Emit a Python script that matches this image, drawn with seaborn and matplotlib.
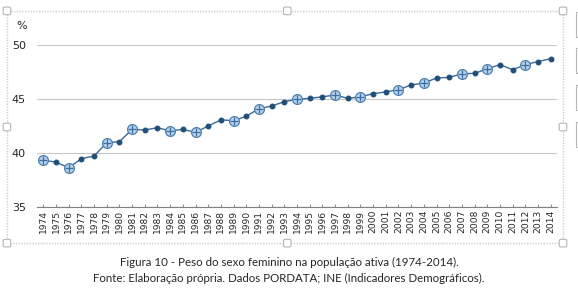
import pandas as pd
import seaborn as sns
import matplotlib.pyplot as plt
from matplotlib.patches import Rectangle, FancyBboxPatch

# values (% women in the active population)
years = list(range(1974, 2015))
values = [39.35, 39.14, 38.64, 39.47, 39.72, 40.96, 41.05, 42.19, 42.13, 42.34,
          42.04, 42.19, 41.91, 42.50, 43.06, 43.00, 43.40, 44.10, 44.35, 44.75,
          44.97, 45.06, 45.20, 45.37, 45.06, 45.20, 45.49, 45.65, 45.86, 46.30,
          46.48, 46.94, 47.00, 47.34, 47.37, 47.80, 48.18, 47.71, 48.18, 48.46,
          48.73]
# years drawn with the larger highlighted marker
highlight_years = [1974, 1976, 1979, 1981, 1984, 1986, 1989, 1991, 1994, 1997,
                   1999, 2002, 2004, 2007, 2009, 2012]

df = pd.DataFrame({"ano": years, "peso": values})
hl = df[df["ano"].isin(highlight_years)]

sns.set_style("white")
plt.rcParams['font.family'] = ['DejaVu Sans']

fig = plt.figure(figsize=(5.78, 2.94), dpi=100)
ax = fig.add_axes([0.064, 0.296, 0.8997, 0.551])

sns.lineplot(data=df, x="ano", y="peso", ax=ax, color="#3b6a99", linewidth=1.0,
             marker="o", markersize=3.5, markerfacecolor="#1f4e79",
             markeredgecolor="#1f4e79")
sns.scatterplot(data=hl, x="ano", y="peso", ax=ax, s=50, color="#b4d2ec",
                edgecolor="#4f7fae", linewidth=0.9, zorder=4)
sns.scatterplot(data=hl, x="ano", y="peso", ax=ax, s=36, marker="+",
                color="#3f6f9f", linewidth=0.9, zorder=5)

ax.set_xlim(1973.5, 2014.5)
ax.set_ylim(35, 50)
ax.set_yticks([35, 40, 45, 50])
ax.set_xticks(years)
ax.set_xticklabels([str(y) for y in years], rotation=90, fontsize=6.6)
ax.tick_params(axis="y", labelsize=8, length=0, pad=8)
ax.tick_params(axis="x", length=2.5, width=0.6, color="#777777", pad=2,
               direction="in", bottom=True)
ax.grid(axis="y", color="#c8c8c8", linewidth=0.8)
for s in ["top", "right", "left"]:
    ax.spines[s].set_visible(False)
ax.spines["bottom"].set_color("#7f7f7f")
ax.spines["bottom"].set_linewidth(0.8)
ax.set_xlabel("")
ax.set_ylabel("")
fig.text(0.029, 0.912, "%", fontsize=8, ha="left", va="center")

# chart frame with selection handles
fig.patches.append(Rectangle((0.012, 0.173), 0.962, 0.79, transform=fig.transFigure,
                             fill=False, edgecolor="#cccccc", linewidth=1.0,
                             linestyle=(0, (1, 1))))
hw, hh = 0.013, 0.026
for hx, hy in [(0.012, 0.963), (0.497, 0.963), (0.974, 0.963),
               (0.012, 0.568), (0.974, 0.568),
               (0.012, 0.173), (0.497, 0.173), (0.974, 0.173)]:
    fig.patches.append(FancyBboxPatch((hx - hw / 2, hy - hh / 2), hw, hh,
                                      boxstyle="round,pad=0,rounding_size=0.004",
                                      transform=fig.transFigure, facecolor="white",
                                      edgecolor="#b5b5b5", linewidth=0.8, zorder=10))
for by in [0.875, 0.752, 0.626, 0.5]:
    fig.patches.append(Rectangle((0.996, by), 0.02, 0.085, transform=fig.transFigure,
                                 facecolor="white", edgecolor="#b8b8b8", linewidth=0.8))

fig.text(0.5, 0.108, "Figura 10 - Peso do sexo feminino na população ativa (1974-2014).",
         ha="center", va="center", fontsize=8.3, family=["Lato", "DejaVu Sans"])
fig.text(0.5, 0.054, "Fonte: Elaboração própria. Dados PORDATA; INE (Indicadores Demográficos).",
         ha="center", va="center", fontsize=8.3, family=["Lato", "DejaVu Sans"])

fig.savefig("out.png", dpi=100)
